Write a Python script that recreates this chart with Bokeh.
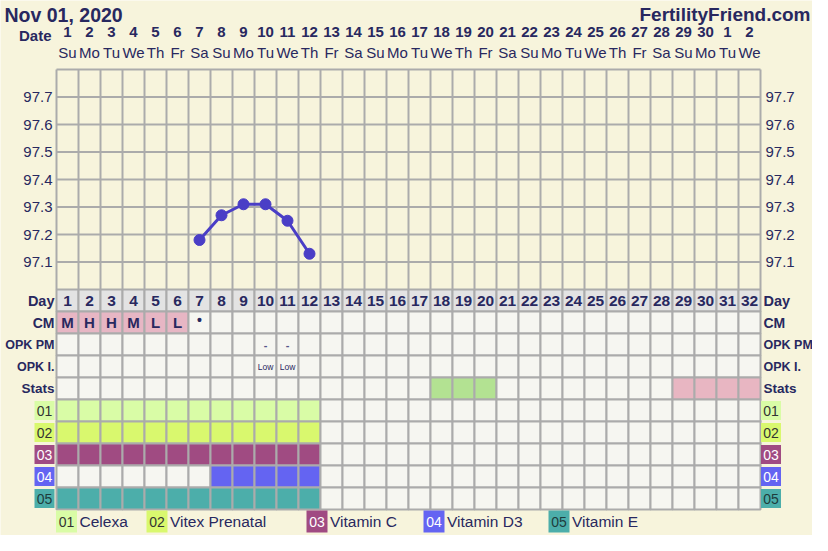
from bokeh.plotting import figure
from bokeh.models import Range1d
from bokeh.core.properties import value
from bokeh.embed import file_html
from bokeh.resources import INLINE

# ---------------- data ----------------
title_text = "Nov 01, 2020"
site_text = "FertilityFriend.com"
cycle_days = list(range(1, 33))
date_labels = [str(d) for d in range(1, 31)] + ["1", "2"]
weekday_labels = (["Su", "Mo", "Tu", "We", "Th", "Fr", "Sa"] * 5)[:32]

temp_days = [7, 8, 9, 10, 11, 12]
temps = [97.18, 97.27, 97.31, 97.31, 97.25, 97.13]
temp_ticks = [97.1, 97.2, 97.3, 97.4, 97.5, 97.6, 97.7]
temp_ticks_labels = ["97.1", "97.2", "97.3", "97.4", "97.5", "97.6", "97.7"]
temp_gridlines = [97.1, 97.2, 97.3, 97.4, 97.5, 97.6, 97.7, 97.8]

row_labels = ["Day", "CM", "OPK PM", "OPK I.", "Stats"]
cm_days = [1, 2, 3, 4, 5, 6]
cm_vals = ["M", "H", "H", "M", "L", "L"]
cm_dot_days = [7]
opk_pm_days = [10, 11]
opk_pm_vals = ["-", "-"]
opk_i_days = [10, 11]
opk_i_vals = ["Low", "Low"]
stats_green_days = [18, 19, 20]
stats_pink_days = [29, 30, 31, 32]

med_codes = ["01", "02", "03", "04", "05"]
med_names = ["Celexa", "Vitex Prenatal", "Vitamin C", "Vitamin D3", "Vitamin E"]
med_days = [
    list(range(1, 13)),
    list(range(1, 13)),
    list(range(1, 13)),
    list(range(8, 13)),
    list(range(1, 13)),
]

# ---------------- styles ----------------
CREAM = "#f7f4dc"
NAVY = "#28285f"
GRID = "#ababab"
CELL_BG = "#f6f6f1"
DAY_BG = "#e3e3e3"
CM_PINK = "#e7b6c4"
STAT_GREEN = "#b3e292"
STAT_PINK = "#e8b6c2"
LINE_C = "#4a3ec6"
med_colors = ["#d9fca6", "#d9f86e", "#a04b82", "#6464f2", "#4caeaa"]
med_text_colors = ["#333333", "#333333", "#ffffff", "#ffffff", "#1e3c3c"]
row_label_sizes = ["14.5px", "14px", "12.5px", "12.5px", "13.5px"]
FONT = value("Liberation Sans")

# layout (page pixels of the reference)
GRID_LEFT_PX = 64
GRID_BOTTOM_PX = 517
CELL_PX = 22.0
W, H = 812, 535


def gx(px):
    return 0.5 + (px - GRID_LEFT_PX) / CELL_PX


def gy(py):
    return (GRID_BOTTOM_PX - py) / CELL_PX


TEMP_BASE = 97.0      # temperature at top of table (row unit 10)
TEMP_PER_ROW = 0.08   # degrees per row unit


def t_of(y):
    return TEMP_BASE + (y - 10) * TEMP_PER_ROW


p = figure(width=W, height=H,
           x_range=Range1d(gx(8), gx(8 + W)),
           y_range=Range1d(gy(8 + H), gy(8)),
           x_axis_type=None, y_axis_type=None,
           toolbar_location=None, output_backend="svg",
           min_border=0, background_fill_color=CREAM,
           border_fill_color=CREAM, outline_line_color=None)
p.extra_y_ranges = {"temp": Range1d(t_of(gy(8 + H)), t_of(gy(8)))}

n = len(cycle_days)
edges = [d - 0.5 for d in cycle_days] + [cycle_days[-1] + 0.5]

# ---- temperature grid ----
p.segment(x0=edges, y0=[10] * len(edges), x1=edges, y1=[20] * len(edges),
          line_color=GRID, line_width=2)
p.segment(x0=[edges[0]] * len(temp_gridlines), y0=temp_gridlines,
          x1=[edges[-1]] * len(temp_gridlines), y1=temp_gridlines,
          y_range_name="temp", line_color=GRID, line_width=2)

# ---- table cells ----
row_y = {i: 9.5 - i for i in range(10)}
cx, cy, cc = [], [], []
for r in range(10):
    for d in cycle_days:
        c = CELL_BG
        if r == 0:
            c = DAY_BG
        elif r == 1 and d in cm_days:
            c = CM_PINK
        elif r == 4 and d in stats_green_days:
            c = STAT_GREEN
        elif r == 4 and d in stats_pink_days:
            c = STAT_PINK
        elif r >= 5 and d in med_days[r - 5]:
            c = med_colors[r - 5]
        cx.append(d)
        cy.append(row_y[r])
        cc.append(c)
p.rect(x=cx, y=cy, width=1, height=1, fill_color=cc, line_color=GRID, line_width=2)

# ---- temperature line ----
p.line(temp_days, temps, y_range_name="temp", line_color=LINE_C, line_width=3)
p.scatter(temp_days, temps, y_range_name="temp", size=11,
          fill_color=LINE_C, line_color=LINE_C)

# ---- temperature tick labels ----
p.text(x=[gx(60)] * len(temp_ticks), y=temp_ticks, text=temp_ticks_labels,
       y_range_name="temp", text_font=FONT, text_font_size="15px",
       text_color=NAVY, text_align="right", text_baseline="middle")
p.text(x=[gx(773)] * len(temp_ticks), y=temp_ticks, text=temp_ticks_labels,
       y_range_name="temp", text_font=FONT, text_font_size="15px",
       text_color=NAVY, text_align="left", text_baseline="middle")

# ---- header ----
p.text(x=[gx(12)], y=[gy(22)], text=[title_text], text_font=FONT,
       text_font_size="19.5px", text_font_style="bold", text_color=NAVY,
       text_align="left", text_baseline="alphabetic")
p.text(x=[gx(818)], y=[gy(22)], text=[site_text], text_font=FONT,
       text_font_size="19px", text_font_style="bold", text_color=NAVY,
       text_align="right", text_baseline="alphabetic")
p.text(x=[gx(59)], y=[gy(43)], text=["Date"], text_font=FONT,
       text_font_size="15px", text_font_style="bold", text_color=NAVY,
       text_align="right", text_baseline="middle")
p.text(x=cycle_days, y=[gy(39)] * n, text=date_labels, text_font=FONT,
       text_font_size="15px", text_font_style="bold", text_color=NAVY,
       text_align="center", text_baseline="middle")
p.text(x=cycle_days, y=[gy(60)] * n, text=weekday_labels, text_font=FONT,
       text_font_size="15px", text_color=NAVY,
       text_align="center", text_baseline="middle")

# ---- table texts ----
p.text(x=cycle_days, y=[row_y[0]] * n, text=[str(d) for d in cycle_days],
       text_font=FONT, text_font_size="15.5px", text_font_style="bold",
       text_color=NAVY, text_align="center", text_baseline="middle")
p.text(x=cm_days, y=[row_y[1]] * len(cm_days), text=cm_vals,
       text_font=FONT, text_font_size="15px", text_font_style="bold",
       text_color=NAVY, text_align="center", text_baseline="middle")
p.text(x=cm_dot_days, y=[row_y[1]] * len(cm_dot_days), text=["\u2022"] * len(cm_dot_days),
       text_font=FONT, text_font_size="14px", text_font_style="bold",
       text_color=NAVY, text_align="center", text_baseline="middle", y_offset=-3)
p.text(x=opk_pm_days, y=[row_y[2]] * len(opk_pm_days), text=opk_pm_vals,
       text_font=FONT, text_font_size="11px", text_font_style="bold",
       text_color="#555588", text_align="center", text_baseline="middle")
p.text(x=opk_i_days, y=[row_y[3]] * len(opk_i_days), text=opk_i_vals,
       text_font=FONT, text_font_size="8.5px",
       text_color=NAVY, text_align="center", text_baseline="middle")

ry = [row_y[i] for i in range(5)]
p.text(x=[gx(62)] * 5, y=ry, text=row_labels, text_font=FONT,
       text_font_size=row_label_sizes, text_font_style="bold", text_color=NAVY,
       text_align="right", text_baseline="middle")
p.text(x=[gx(771)] * 5, y=ry, text=row_labels, text_font=FONT,
       text_font_size=row_label_sizes, text_font_style="bold", text_color=NAVY,
       text_align="left", text_baseline="middle")

# ---- medication row labels ----
my = [row_y[5 + i] for i in range(5)]
for side_x in (gx(52), gx(778.5)):
    p.rect(x=[side_x] * 5, y=my, width=20 / CELL_PX, height=19 / CELL_PX,
           fill_color=med_colors, line_color=None)
    p.text(x=[side_x] * 5, y=my, text=med_codes, text_font=FONT,
           text_font_size="14px", text_color=med_text_colors,
           text_align="center", text_baseline="middle")

# ---- legend ----
legend_box_px = [74, 164.5, 324.5, 441.5, 566.5]
ly = gy(529)
lx = [gx(v) for v in legend_box_px]
p.rect(x=lx, y=[ly] * 5, width=21 / CELL_PX, height=22 / CELL_PX,
       fill_color=med_colors, line_color=None)
p.text(x=lx, y=[ly] * 5, text=med_codes, text_font=FONT,
       text_font_size="14px", text_color=med_text_colors,
       text_align="center", text_baseline="middle")
p.text(x=[gx(v + 13) for v in legend_box_px], y=[ly] * 5, text=med_names,
       text_font=FONT, text_font_size="15.5px", text_color=NAVY,
       text_align="left", text_baseline="middle")

open("out.html", "w").write(file_html(p, INLINE))
